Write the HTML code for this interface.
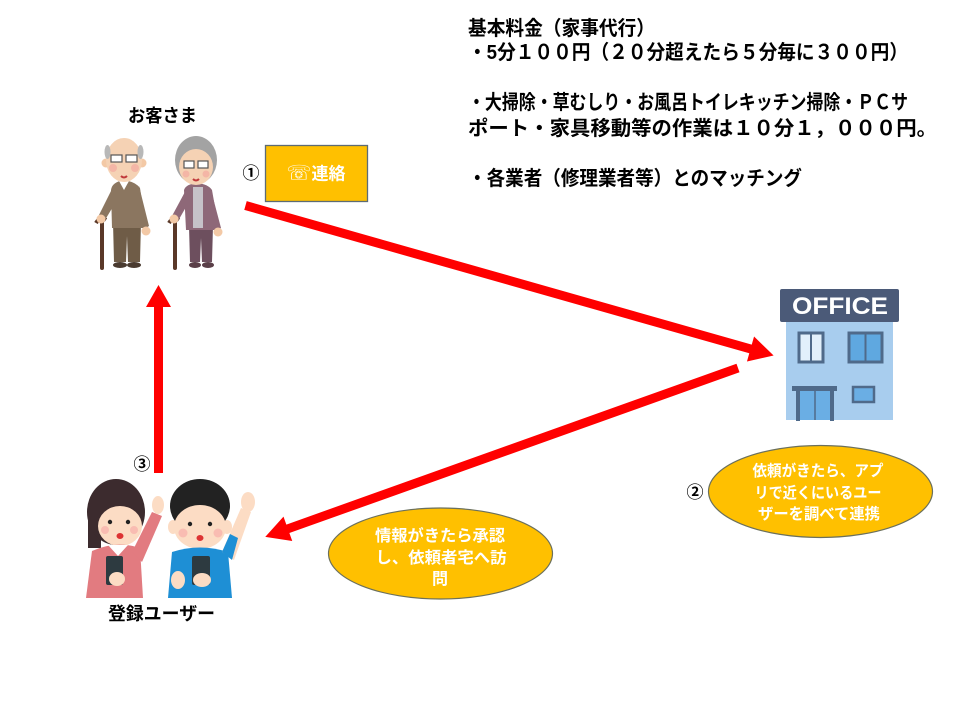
<!DOCTYPE html>
<html><head><meta charset="utf-8"><style>
html,body{margin:0;padding:0;background:#fff;}
svg{display:block;}
text{font-family:"Liberation Sans","Noto Sans CJK JP",sans-serif;font-weight:bold;}
</style></head><body>
<svg width="960" height="720" viewBox="0 0 960 720" xmlns="http://www.w3.org/2000/svg">
<rect width="960" height="720" fill="#fff"/>

<!-- Top text block -->
<g font-size="20" fill="#000">
<text x="468" y="35" textLength="187" lengthAdjust="spacingAndGlyphs">基本料金（家事代行）</text>
<text x="468" y="59" textLength="440" lengthAdjust="spacingAndGlyphs">・5分１００円（２０分超えたら５分毎に３００円）</text>
<text x="468" y="109" textLength="440" lengthAdjust="spacingAndGlyphs">・大掃除・草むしり・お風呂トイレキッチン掃除・ＰＣサ</text>
<text x="468" y="135" textLength="469" lengthAdjust="spacingAndGlyphs">ポート・家具移動等の作業は１０分１，０００円。</text>
<text x="468" y="185" textLength="334" lengthAdjust="spacingAndGlyphs">・各業者（修理業者等）とのマッチング</text>
</g>

<!-- Labels -->
<text x="128" y="122" font-size="18" textLength="69" lengthAdjust="spacingAndGlyphs">お客さま</text>
<text x="108" y="620" font-size="18" textLength="107" lengthAdjust="spacingAndGlyphs">登録ユーザー</text>
<text x="251" y="179" font-size="17" text-anchor="middle" font-weight="normal">①</text>
<text x="695" y="498" font-size="17" text-anchor="middle" font-weight="normal">②</text>
<text x="142" y="470" font-size="17" text-anchor="middle" font-weight="normal">③</text>

<!-- Contact box -->
<rect x="265.5" y="145.5" width="102" height="56" fill="#FFC000" stroke="#5d6b74" stroke-width="1.3"/>
<text x="316" y="179.5" font-size="17" fill="#fff" text-anchor="middle"><tspan style="font-family:'DejaVu Sans',sans-serif" font-size="20">☏</tspan><tspan>連絡</tspan></text>

<!-- Ellipses -->
<ellipse cx="820.5" cy="491.5" rx="112" ry="46" fill="#FFC000" stroke="#6b705c" stroke-width="1.2"/>
<g font-size="15.5" fill="#fff" text-anchor="middle">
<text x="818" y="476" textLength="131" lengthAdjust="spacingAndGlyphs">依頼がきたら、アプ</text>
<text x="818" y="498" textLength="127" lengthAdjust="spacingAndGlyphs">リで近くにいるユー</text>
<text x="819" y="519" textLength="122" lengthAdjust="spacingAndGlyphs">ザーを調べて連携</text>
</g>
<ellipse cx="440.5" cy="553.5" rx="112" ry="45.5" fill="#FFC000" stroke="#6b705c" stroke-width="1.2"/>
<g font-size="16" fill="#fff" text-anchor="middle">
<text x="440" y="541" textLength="130" lengthAdjust="spacingAndGlyphs">情報がきたら承認</text>
<text x="441" y="563" textLength="131" lengthAdjust="spacingAndGlyphs">し、依頼者宅へ訪</text>
<text x="440" y="584">問</text>
</g>

<!-- Arrows -->
<g fill="#FF0000">
<g transform="translate(245.5,205.5) rotate(15.86)">
<polygon points="0,-4.5 525,-4.5 525,-13 549,0 525,13 525,4.5 0,4.5"/>
</g>
<g transform="translate(738,368) rotate(160.34)">
<polygon points="0,-4.5 478,-4.5 478,-13 502,0 478,13 478,4.5 0,4.5"/>
</g>
<g transform="translate(158.5,473) rotate(-90)">
<polygon points="0,-4.5 166,-4.5 166,-12.5 188,0 166,12.5 166,4.5 0,4.5"/>
</g>
</g>

<!-- Elderly man -->
<g>
<line x1="102" y1="222" x2="102" y2="268" stroke="#5a3828" stroke-width="4" stroke-linecap="round"/>
<path d="M96,223 Q100,216 106,220" stroke="#5a3828" stroke-width="4" fill="none"/>
<polygon points="113,222 141,222 140,262 128,262 127,236 126,262 114,262" fill="#6f5c47"/>
<ellipse cx="120" cy="265" rx="7" ry="3" fill="#4a3b30"/>
<ellipse cx="134" cy="265" rx="7" ry="3" fill="#4a3b30"/>
<path d="M111,190 Q112,182 124,180 Q136,182 140,188 L146,228 L112,228 Z" fill="#8b7660"/>
<polygon points="139,186 149,226 143,230 136,200" fill="#8b7660"/>
<polygon points="112,189 99,215 105,220 117,200" fill="#8b7660"/>
<circle cx="101" cy="219" r="4.5" fill="#f3c9a6"/>
<circle cx="146" cy="231" r="4.5" fill="#f3c9a6"/>
<polygon points="119,181 129,181 124,190" fill="#fff"/>
<circle cx="106" cy="163" r="4.5" fill="#f3c9a6"/>
<circle cx="142" cy="163" r="4.5" fill="#f3c9a6"/>
<ellipse cx="124" cy="160" rx="18" ry="22" fill="#f5d2b4"/>
<ellipse cx="107.5" cy="152" rx="3" ry="7" fill="#b8b8b8"/>
<ellipse cx="140.5" cy="152" rx="3" ry="7" fill="#b8b8b8"/>
<circle cx="113" cy="168" r="4" fill="#f4a9a0" opacity=".7"/>
<circle cx="135" cy="168" r="4" fill="#f4a9a0" opacity=".7"/>
<rect x="111" y="155" width="11" height="7" fill="#fff" stroke="#555" stroke-width="1.2"/>
<rect x="126" y="155" width="11" height="7" fill="#fff" stroke="#555" stroke-width="1.2"/>
<path d="M121,176 Q124,179 127,176" stroke="#c0393b" stroke-width="2" fill="none"/>
</g>

<!-- Elderly woman -->
<g>
<line x1="175" y1="222" x2="175" y2="268" stroke="#5a3828" stroke-width="4" stroke-linecap="round"/>
<path d="M169,223 Q173,216 179,220" stroke="#5a3828" stroke-width="4" fill="none"/>
<polygon points="189,226 213,226 212,262 202,262 201,238 200,262 190,262" fill="#6d4f5e"/>
<ellipse cx="195" cy="265" rx="6" ry="3" fill="#5a3f48"/>
<ellipse cx="208" cy="265" rx="6" ry="3" fill="#5a3f48"/>
<path d="M184,190 Q186,184 197,183 Q208,184 212,190 L219,230 L186,230 Z" fill="#8e6878"/>
<rect x="193" y="187" width="10" height="41" fill="#c6c2c8"/>
<polygon points="186,190 172,216 178,221 190,200" fill="#8e6878"/>
<polygon points="211,190 221,228 215,231 208,200" fill="#8e6878"/>
<circle cx="174" cy="219" r="4.5" fill="#f3c9a6"/>
<circle cx="218" cy="232" r="4.5" fill="#f3c9a6"/>
<ellipse cx="196" cy="160" rx="21" ry="24" fill="#a3a3a3"/>
<ellipse cx="196" cy="167" rx="17" ry="18" fill="#f5d2b4"/>
<circle cx="186" cy="174" r="3.5" fill="#f4a9a0" opacity=".7"/>
<circle cx="206" cy="174" r="3.5" fill="#f4a9a0" opacity=".7"/>
<rect x="184" y="161" width="10" height="7" fill="#fff" stroke="#555" stroke-width="1.2"/>
<rect x="198" y="161" width="10" height="7" fill="#fff" stroke="#555" stroke-width="1.2"/>
<path d="M193,179 Q196,182 199,179" stroke="#c0393b" stroke-width="2" fill="none"/>
</g>

<!-- Young woman -->
<g>
<rect x="88" y="508" width="13" height="40" fill="#3c2b2e"/>
<ellipse cx="116" cy="512" rx="29" ry="33" fill="#3c2b2e"/>
<ellipse cx="120" cy="526" rx="22" ry="20" fill="#fcdcc4"/>
<path d="M92,551 Q116,540 140,548 L143,598 L86,598 Z" fill="#e27b80"/>
<polygon points="108,545 128,545 118,556" fill="#fff"/>
<polygon points="132,552 152,512 162,516 142,562" fill="#e27b80"/>
<ellipse cx="158" cy="505" rx="6" ry="9" fill="#fcdcc4"/>
<rect x="106" y="556" width="17" height="29" rx="2" fill="#2d3a40"/>
<ellipse cx="117" cy="579" rx="8" ry="7" fill="#fcdcc4"/>
<circle cx="110" cy="522" r="2.2" fill="#222"/>
<circle cx="128" cy="522" r="2.2" fill="#222"/>
<circle cx="105" cy="530" r="4" fill="#f7a7a7" opacity=".6"/>
<circle cx="134" cy="530" r="4" fill="#f7a7a7" opacity=".6"/>
<ellipse cx="120" cy="536" rx="3.5" ry="3" fill="#d33"/>
</g>

<!-- Young man -->
<g>
<ellipse cx="173" cy="527" rx="5" ry="7" fill="#fcdcc4"/>
<ellipse cx="227" cy="527" rx="5" ry="7" fill="#fcdcc4"/>
<ellipse cx="200" cy="506" rx="30" ry="27" fill="#222"/>
<ellipse cx="200" cy="527" rx="26" ry="22" fill="#fcdcc4"/>
<path d="M172,552 Q200,543 228,552 L232,598 L168,598 Z" fill="#1e8fd5"/>
<polygon points="222,552 241,508 251,512 234,560" fill="#fcdcc4"/>
<polygon points="222,552 230,534 238,538 232,560" fill="#1e8fd5"/>
<ellipse cx="248" cy="502" rx="7" ry="10" fill="#fcdcc4"/>
<ellipse cx="178" cy="580" rx="7" ry="9" fill="#fcdcc4"/>
<rect x="192" y="556" width="18" height="29" rx="2" fill="#2d3a40"/>
<ellipse cx="202" cy="580" rx="9" ry="7" fill="#fcdcc4"/>
<circle cx="190" cy="524" r="2.2" fill="#222"/>
<circle cx="210" cy="524" r="2.2" fill="#222"/>
<circle cx="183" cy="533" r="4.5" fill="#f7a7a7" opacity=".6"/>
<circle cx="218" cy="533" r="4.5" fill="#f7a7a7" opacity=".6"/>
<ellipse cx="200" cy="538" rx="3.5" ry="3" fill="#d33"/>
</g>

<!-- Office -->
<g>
<rect x="786" y="320" width="107" height="100" fill="#a8cdee"/>
<rect x="780" y="289" width="119" height="33" rx="2" fill="#4b5a78"/>
<text x="792" y="314" font-size="24" fill="#fff" textLength="96" lengthAdjust="spacingAndGlyphs">OFFICE</text>
<rect x="799" y="333" width="24" height="29" fill="#e2f0fb" stroke="#4f6a8a" stroke-width="3"/>
<line x1="811" y1="333" x2="811" y2="362" stroke="#4f6a8a" stroke-width="2"/>
<rect x="849" y="333" width="33" height="29" fill="#5fa8e0" stroke="#4f6a8a" stroke-width="3"/>
<line x1="865.5" y1="333" x2="865.5" y2="362" stroke="#4f6a8a" stroke-width="2"/>
<rect x="800" y="391" width="30" height="29" fill="#6aaee4"/>
<line x1="815" y1="391" x2="815" y2="420" stroke="#4f6a8a" stroke-width="1.5"/>
<rect x="792" y="386" width="45" height="5" fill="#4f6a8a"/>
<rect x="796" y="391" width="4" height="30" fill="#4f6a8a"/>
<rect x="830" y="391" width="4" height="30" fill="#4f6a8a"/>
<rect x="853" y="387" width="21" height="15" fill="#6aaee4" stroke="#4f6a8a" stroke-width="2.5"/>
</g>
</svg>
</body></html>
